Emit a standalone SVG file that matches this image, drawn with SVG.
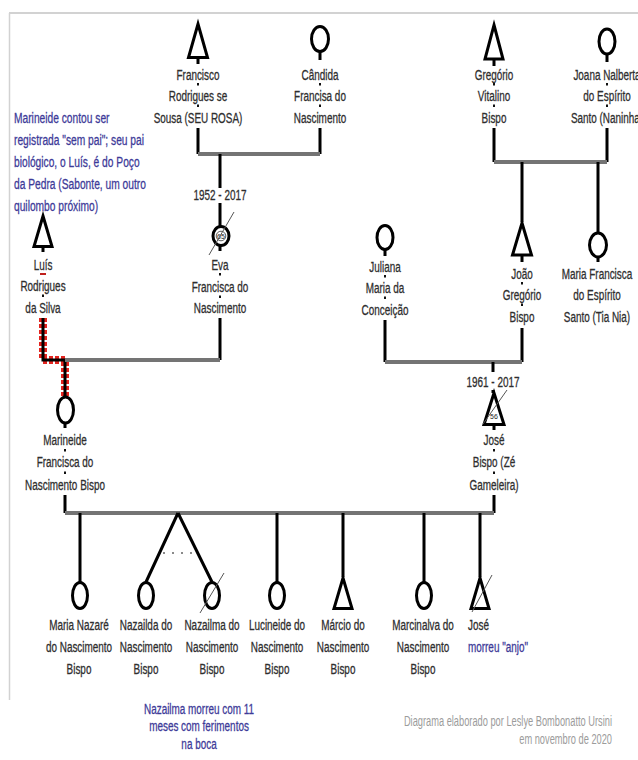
<svg xmlns="http://www.w3.org/2000/svg" width="638" height="760" viewBox="0 0 638 760">
  <style>
    .frame { stroke: #d2d2d2; fill: none; }
    .line { stroke: #000; stroke-width: 3; fill: none; }
    .bar { stroke: #747474; stroke-width: 4; fill: none; }
    .sym { stroke: #000; stroke-width: 3; fill: #fff; }
    .slash { stroke: #555; stroke-width: 1; }
    .dot { fill: #111; }
    .twin { stroke: #8a8a8a; stroke-width: 2; stroke-dasharray: 2 7; }
    .nm { font-family: "Liberation Sans", Arial, sans-serif; font-size: 15.5px; fill: #2e2e2e; stroke: #2e2e2e; stroke-width: .3; text-anchor: middle; }
    .note { font-family: "Liberation Sans", Arial, sans-serif; font-size: 15.5px; fill: #3d3a98; stroke: #3d3a98; stroke-width: .3; }
    .foot { font-family: "Liberation Sans", Arial, sans-serif; font-size: 14.5px; fill: #9c9c9c; text-anchor: end; }
    .age { font-family: "Liberation Sans", Arial, sans-serif; font-size: 7px; fill: #222; text-anchor: middle; }
  </style>

  <rect width="638" height="760" fill="#fff"/>
  <!-- page frame -->
  <line class="frame" x1="9" y1="13" x2="638" y2="13" stroke-width="2"/>
  <line class="frame" x1="9.5" y1="13" x2="9.5" y2="700" stroke-width="1.5" stroke="#e2e2e2"/>

  <!-- connectors -->
  <g id="connectors">
    <!-- Francisco + Cândida -->
    <path class="line" d="M198 58V64 M198 128V154 M320 52V60 M320 128V154"/>
    <path class="bar" d="M198 154H320"/>
    <path class="line" d="M220 154V188 M220 203V226 M220 246V251 M220 318V360"/>
    <!-- Gregório + Joana -->
    <path class="line" d="M494 60V66 M494 128V162 M607 55V62 M607 128V162"/>
    <path class="bar" d="M494 162H607"/>
    <path class="line" d="M522 162V222 M522 255V262 M598 162V233 M598 257V262"/>
    <!-- Juliana + João -->
    <path class="line" d="M385 250V256 M385 320V362 M522 328V362"/>
    <path class="bar" d="M385 362H522"/>
    <path class="line" d="M493 362V372 M493 390V393 M494 425V430"/>
    <!-- Luís + Eva (highlighted descent) -->
    <path d="M43 318V360H65V396" fill="none" stroke="#e3241f" stroke-width="8" stroke-dasharray="4 2"/>
    <path class="line" d="M43 318V360H65V396" stroke-width="2"/>
    <path class="line" d="M43 247V252 M65 423V428"/>
    <path class="bar" d="M65 360H220"/>
    <!-- Marineide + José -->
    <path class="line" d="M65 495V513 M494 495V513"/>
    <path class="bar" d="M65 513H494"/>
    <!-- children -->
    <path class="line" d="M80 513V582 M178 513L146 582 M178 513L212 582 M277 513V582 M343 513V577 M424 513V582 M480 513V577"/>
    <line class="twin" x1="163" y1="553" x2="195" y2="553"/>
    <!-- marks between label lines -->
    <g class="dot">
      <rect x="197" y="83" width="2" height="2.5"/><rect x="197" y="104.5" width="2" height="2.5"/>
      <rect x="319" y="83" width="2" height="2.5"/><rect x="319" y="104.5" width="2" height="2.5"/>
      <rect x="493" y="83" width="2" height="2.5"/><rect x="493" y="104.5" width="2" height="2.5"/>
      <rect x="606" y="83" width="2" height="2.5"/><rect x="606" y="104.5" width="2" height="2.5"/>
      <rect x="219" y="273" width="2" height="2.5"/><rect x="219" y="295.5" width="2" height="2.5"/>
      <rect x="42" y="294.5" width="2" height="2.5"/>
      <rect x="384" y="275" width="2" height="2.5"/><rect x="384" y="296.5" width="2" height="2.5"/>
      <rect x="521" y="282" width="2" height="2.5"/><rect x="521" y="303.5" width="2" height="2.5"/>
      <rect x="64" y="449" width="2" height="2.5"/><rect x="64" y="471.5" width="2" height="2.5"/>
      <rect x="493" y="449" width="2" height="2.5"/><rect x="493" y="471.5" width="2" height="2.5"/>
    </g>
    <rect x="40" y="273" width="6" height="2" fill="#c0201c"/>
  </g>

  <!-- generation I -->
  <g id="francisco">
    <path class="sym" d="M198 24L207.5 57.5H188.5Z"/>
    <g transform="translate(198 80) scale(.64 1)"><text class="nm"><tspan x="0" y="0">Francisco</tspan><tspan x="0" y="21.5">Rodrigues se</tspan><tspan x="0" y="43">Sousa (SEU ROSA)</tspan></text></g>
  </g>
  <g id="candida">
    <ellipse class="sym" cx="320" cy="39" rx="8.5" ry="12.5"/>
    <g transform="translate(320 80) scale(.64 1)"><text class="nm"><tspan x="0" y="0">Cândida</tspan><tspan x="0" y="21.5">Francisa do</tspan><tspan x="0" y="43">Nascimento</tspan></text></g>
  </g>
  <g id="gregorio">
    <path class="sym" d="M494 25L503 59H485Z"/>
    <g transform="translate(494 80) scale(.64 1)"><text class="nm"><tspan x="0" y="0">Gregório</tspan><tspan x="0" y="21.5">Vitalino</tspan><tspan x="0" y="43">Bispo</tspan></text></g>
  </g>
  <g id="joana">
    <ellipse class="sym" cx="607" cy="41.5" rx="8" ry="12.5"/>
    <g transform="translate(607 80) scale(.64 1)"><text class="nm"><tspan x="0" y="0">Joana Nalberta</tspan><tspan x="0" y="21.5">do Espírito</tspan><tspan x="0" y="43">Santo (Naninha)</tspan></text></g>
  </g>

  <!-- generation II -->
  <g id="note-marineide">
    <g transform="translate(14 123) scale(.66 1)"><text class="note"><tspan x="0" y="0">Marineide contou ser</tspan><tspan x="0" y="22">registrada "sem pai"; seu pai</tspan><tspan x="0" y="44">biológico, o Luís, é do Poço</tspan><tspan x="0" y="66">da Pedra (Sabonte, um outro</tspan><tspan x="0" y="88">quilombo próximo)</tspan></text></g>
  </g>
  <g id="luis">
    <path class="sym" d="M43 216L52 246.5H34Z"/>
    <g transform="translate(43 270) scale(.64 1)"><text class="nm"><tspan x="0" y="0">Luís</tspan><tspan x="0" y="21.5">Rodrigues</tspan><tspan x="0" y="43">da Silva</tspan></text></g>
  </g>
  <g id="eva">
    <g transform="translate(220 200) scale(.64 1)"><text class="nm">1952 - 2017</text></g>
    <ellipse class="sym" cx="221" cy="236" rx="8" ry="9.5" stroke-width="4"/>
    <circle cx="221" cy="236" r="4.8" fill="#fff" stroke="#333" stroke-width=".8"/>
    <text class="age" x="221" y="238.5">65</text>
    <line class="slash" x1="209" y1="255" x2="234" y2="212"/>
    <g transform="translate(220 270) scale(.64 1)"><text class="nm"><tspan x="0" y="0">Eva</tspan><tspan x="0" y="22">Francisca do</tspan><tspan x="0" y="43.5">Nascimento</tspan></text></g>
  </g>
  <g id="juliana">
    <ellipse class="sym" cx="385" cy="237.5" rx="8" ry="12"/>
    <g transform="translate(385 272) scale(.64 1)"><text class="nm"><tspan x="0" y="0">Juliana</tspan><tspan x="0" y="21.5">Maria da</tspan><tspan x="0" y="43">Conceição</tspan></text></g>
  </g>
  <g id="joao">
    <path class="sym" d="M522 223L531.5 255H512.5Z"/>
    <g transform="translate(522 279) scale(.64 1)"><text class="nm"><tspan x="0" y="0">João</tspan><tspan x="0" y="21.5">Gregório</tspan><tspan x="0" y="43">Bispo</tspan></text></g>
  </g>
  <g id="maria-francisca">
    <ellipse class="sym" cx="598" cy="245" rx="8.5" ry="12"/>
    <g transform="translate(597 279) scale(.64 1)"><text class="nm"><tspan x="0" y="0">Maria Francisca</tspan><tspan x="0" y="21.5">do Espírito</tspan><tspan x="0" y="43">Santo (Tia Nia)</tspan></text></g>
  </g>

  <!-- generation III -->
  <g id="marineide">
    <ellipse class="sym" cx="65.5" cy="410" rx="8" ry="13"/>
    <g transform="translate(65 445) scale(.64 1)"><text class="nm"><tspan x="0" y="0">Marineide</tspan><tspan x="0" y="22.5">Francisca do</tspan><tspan x="0" y="45">Nascimento Bispo</tspan></text></g>
  </g>
  <g id="jose-bispo">
    <g transform="translate(493 387) scale(.64 1)"><text class="nm">1961 - 2017</text></g>
    <path class="sym" d="M494 393L504 424.5H484Z" stroke-width="4"/>
    <text class="age" x="494" y="419">56</text>
    <line class="slash" x1="483" y1="424" x2="507" y2="390"/>
    <g transform="translate(494 445) scale(.64 1)"><text class="nm"><tspan x="0" y="0">José</tspan><tspan x="0" y="22.5">Bispo (Zé</tspan><tspan x="0" y="45">Gameleira)</tspan></text></g>
  </g>

  <!-- generation IV -->
  <g id="maria-nazare">
    <ellipse class="sym" cx="80" cy="595.5" rx="7.5" ry="13"/>
    <g transform="translate(79 630) scale(.64 1)"><text class="nm"><tspan x="0" y="0">Maria Nazaré</tspan><tspan x="0" y="22">do Nascimento</tspan><tspan x="0" y="44">Bispo</tspan></text></g>
  </g>
  <g id="nazailda">
    <ellipse class="sym" cx="146" cy="595.5" rx="7.5" ry="13"/>
    <g transform="translate(146 630) scale(.64 1)"><text class="nm"><tspan x="0" y="0">Nazailda do</tspan><tspan x="0" y="22">Nascimento</tspan><tspan x="0" y="44">Bispo</tspan></text></g>
  </g>
  <g id="nazailma">
    <ellipse class="sym" cx="212" cy="595.5" rx="7.5" ry="13"/>
    <line class="slash" x1="200" y1="613" x2="224" y2="573"/>
    <g transform="translate(212 630) scale(.64 1)"><text class="nm"><tspan x="0" y="0">Nazailma do</tspan><tspan x="0" y="22">Nascimento</tspan><tspan x="0" y="44">Bispo</tspan></text></g>
  </g>
  <g id="lucineide">
    <ellipse class="sym" cx="277" cy="595.5" rx="7.5" ry="13"/>
    <g transform="translate(277 630) scale(.64 1)"><text class="nm"><tspan x="0" y="0">Lucineide do</tspan><tspan x="0" y="22">Nascimento</tspan><tspan x="0" y="44">Bispo</tspan></text></g>
  </g>
  <g id="marcio">
    <path class="sym" d="M343 578L352 608.5H334Z"/>
    <g transform="translate(343 630) scale(.64 1)"><text class="nm"><tspan x="0" y="0">Márcio do</tspan><tspan x="0" y="22">Nascimento</tspan><tspan x="0" y="44">Bispo</tspan></text></g>
  </g>
  <g id="marcinalva">
    <ellipse class="sym" cx="424" cy="595.5" rx="7.5" ry="13"/>
    <g transform="translate(423 630) scale(.64 1)"><text class="nm"><tspan x="0" y="0">Marcinalva do</tspan><tspan x="0" y="22">Nascimento</tspan><tspan x="0" y="44">Bispo</tspan></text></g>
  </g>
  <g id="jose">
    <path class="sym" d="M480 578L489 608.5H471Z"/>
    <line class="slash" x1="472" y1="612" x2="492" y2="575"/>
    <g transform="translate(468 630) scale(.64 1)"><text class="nm" style="text-anchor:start"><tspan x="0" y="0">José</tspan></text><text class="note"><tspan x="0" y="22">morreu "anjo"</tspan></text></g>
  </g>

  <!-- notes -->
  <g id="note-nazailma">
    <g transform="translate(199 714) scale(.64 1)"><text class="note" font-size="14" text-anchor="middle"><tspan x="0" y="0">Nazailma morreu com 11</tspan><tspan x="0" y="17.5">meses com ferimentos</tspan><tspan x="0" y="35">na boca</tspan></text></g>
  </g>
  <g id="credit">
    <g transform="translate(612 726) scale(.64 1)"><text class="foot"><tspan x="0" y="0">Diagrama elaborado por Leslye Bombonatto Ursini</tspan><tspan x="0" y="18">em novembro de 2020</tspan></text></g>
  </g>
</svg>
